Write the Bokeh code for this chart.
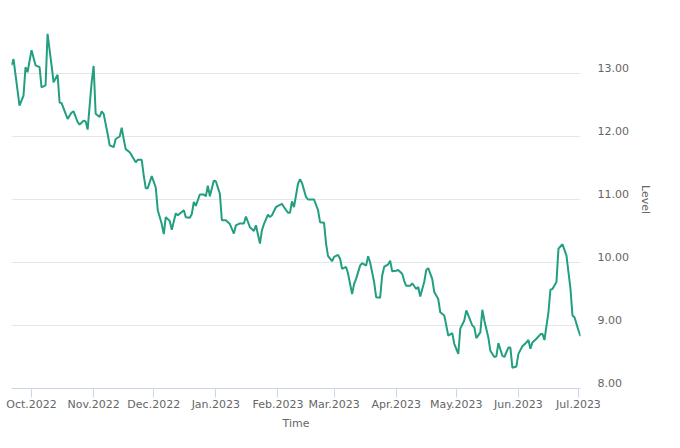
from datetime import datetime
from bokeh.plotting import figure
from bokeh.models import (Range1d, LinearAxis, DatetimeTickFormatter, MonthsTicker,
                          FixedTicker, NumeralTickFormatter, Grid, ColumnDataSource)
from bokeh.embed import file_html
from bokeh.resources import INLINE

dates = ["2022-09-21","2022-09-22","2022-09-25","2022-09-27","2022-09-28","2022-09-29","2022-10-01","2022-10-03","2022-10-05","2022-10-06","2022-10-08","2022-10-09","2022-10-11","2022-10-12","2022-10-14","2022-10-15","2022-10-16","2022-10-19","2022-10-21","2022-10-22","2022-10-24","2022-10-25","2022-10-27","2022-10-28","2022-10-29","2022-10-31","2022-11-01","2022-11-02","2022-11-04","2022-11-05","2022-11-06","2022-11-08","2022-11-09","2022-11-11","2022-11-12","2022-11-14","2022-11-15","2022-11-16","2022-11-17","2022-11-19","2022-11-20","2022-11-22","2022-11-23","2022-11-25","2022-11-26","2022-11-27","2022-11-28","2022-11-30","2022-12-02","2022-12-03","2022-12-05","2022-12-06","2022-12-07","2022-12-09","2022-12-10","2022-12-12","2022-12-13","2022-12-16","2022-12-17","2022-12-19","2022-12-20","2022-12-21","2022-12-22","2022-12-24","2022-12-26","2022-12-27","2022-12-28","2022-12-29","2022-12-31","2023-01-01","2023-01-03","2023-01-04","2023-01-06","2023-01-08","2023-01-10","2023-01-11","2023-01-13","2023-01-15","2023-01-16","2023-01-18","2023-01-20","2023-01-21","2023-01-23","2023-01-24","2023-01-25","2023-01-27","2023-01-28","2023-01-29","2023-01-31","2023-02-01","2023-02-03","2023-02-04","2023-02-06","2023-02-07","2023-02-08","2023-02-09","2023-02-11","2023-02-12","2023-02-13","2023-02-15","2023-02-16","2023-02-19","2023-02-21","2023-02-22","2023-02-24","2023-02-25","2023-02-26","2023-02-28","2023-03-01","2023-03-03","2023-03-04","2023-03-05","2023-03-07","2023-03-08","2023-03-10","2023-03-11","2023-03-12","2023-03-14","2023-03-15","2023-03-17","2023-03-18","2023-03-19","2023-03-21","2023-03-22","2023-03-24","2023-03-25","2023-03-26","2023-03-28","2023-03-29","2023-03-30","2023-04-01","2023-04-02","2023-04-04","2023-04-05","2023-04-06","2023-04-08","2023-04-09","2023-04-11","2023-04-12","2023-04-13","2023-04-15","2023-04-16","2023-04-17","2023-04-19","2023-04-20","2023-04-22","2023-04-23","2023-04-25","2023-04-26","2023-04-27","2023-04-29","2023-04-30","2023-05-02","2023-05-03","2023-05-05","2023-05-06","2023-05-07","2023-05-09","2023-05-10","2023-05-11","2023-05-13","2023-05-14","2023-05-15","2023-05-17","2023-05-18","2023-05-20","2023-05-21","2023-05-22","2023-05-24","2023-05-25","2023-05-27","2023-05-28","2023-05-29","2023-05-31","2023-06-01","2023-06-03","2023-06-05","2023-06-06","2023-06-07","2023-06-08","2023-06-10","2023-06-12","2023-06-13","2023-06-14","2023-06-16","2023-06-17","2023-06-18","2023-06-20","2023-06-21","2023-06-23","2023-06-24","2023-06-25","2023-06-27","2023-06-28","2023-06-29","2023-07-01","2023-07-02"]

values = [13.13,13.23,12.49,12.65,13.10,13.02,13.37,13.13,13.10,12.78,12.81,13.63,13.13,12.86,12.98,12.54,12.53,12.28,12.38,12.40,12.23,12.19,12.25,12.24,12.11,12.86,13.12,12.36,12.31,12.40,12.36,12.04,11.86,11.83,11.96,12.00,12.14,11.96,11.80,11.75,11.70,11.59,11.63,11.63,11.38,11.18,11.18,11.37,11.19,10.83,10.61,10.45,10.72,10.66,10.52,10.78,10.75,10.83,10.72,10.71,10.77,10.96,10.90,11.08,11.08,11.05,11.22,11.05,11.30,11.29,11.09,10.67,10.67,10.61,10.46,10.59,10.62,10.62,10.73,10.56,10.50,10.59,10.30,10.51,10.61,10.76,10.72,10.75,10.88,10.90,10.93,10.88,10.79,10.79,10.97,10.88,11.25,11.32,11.26,11.04,11.00,11.00,10.83,10.64,10.63,10.30,10.10,10.02,10.09,10.12,10.06,9.90,9.93,9.82,9.50,9.66,9.74,9.95,9.99,9.95,10.10,10.00,9.69,9.45,9.44,9.79,9.93,9.97,10.03,9.86,9.87,9.88,9.82,9.71,9.63,9.63,9.67,9.58,9.61,9.46,9.69,9.88,9.91,9.74,9.53,9.42,9.21,9.16,9.00,8.84,8.88,8.71,8.55,8.95,9.08,9.24,9.16,9.00,8.97,8.80,8.89,9.25,9.08,8.81,8.60,8.50,8.51,8.72,8.52,8.50,8.65,8.65,8.33,8.35,8.55,8.67,8.73,8.77,8.63,8.73,8.79,8.86,8.87,8.77,9.21,9.57,9.58,9.69,10.22,10.29,10.20,10.11,9.58,9.16,9.13,8.92,8.83]

y_ticks = [8, 9, 10, 11, 12, 13, 14]
x_title = "Time"
y_title = "Level"

assert len(dates) == len(values), (len(dates), len(values))

xs = [datetime.strptime(d, "%Y-%m-%d") for d in dates]
src = ColumnDataSource(dict(x=xs, y=values))

FONT = "DejaVu Sans"
GREY = "#666666"

p = figure(width=680, height=448, output_backend="svg", toolbar_location=None,
           x_axis_type="datetime", y_axis_location=None,
           x_range=Range1d(xs[0], xs[-1]), y_range=Range1d(y_ticks[0], y_ticks[-1]),
           min_border_left=11, min_border_right=100, min_border_top=10, min_border_bottom=60)
p.outline_line_color = None
p.background_fill_color = "white"
p.border_fill_color = "white"

p.xgrid.visible = False
p.ygrid.visible = False
p.add_layout(Grid(dimension=1, ticker=FixedTicker(ticks=y_ticks),
                  grid_line_color="#e6e6e6", grid_line_width=1))

# right axis labels (sit just above their gridlines)
shift = 6 / 63.0
p.extra_y_ranges = {"lab": Range1d(y_ticks[0] - shift, y_ticks[-1] - shift)}
ax = LinearAxis(y_range_name="lab", ticker=FixedTicker(ticks=y_ticks[:-1]),
                formatter=NumeralTickFormatter(format="0.00"))
ax.axis_line_color = None
ax.major_tick_line_color = None
ax.minor_tick_line_color = None
ax.major_tick_out = 0
ax.major_tick_in = 0
ax.major_label_standoff = 17
ax.major_label_text_font = FONT
ax.major_label_text_font_size = "11px"
ax.major_label_text_color = GREY
ax.axis_label = y_title
ax.axis_label_standoff = 7
ax.axis_label_text_font = FONT
ax.axis_label_text_font_size = "11px"
ax.axis_label_text_font_style = "normal"
ax.axis_label_text_color = GREY
p.add_layout(ax, "right")

xa = p.xaxis[0]
xa.ticker = MonthsTicker(months=list(range(12)))
xa.formatter = DatetimeTickFormatter(months="%b.%Y", days="%b.%Y")
xa.axis_line_color = "#ccd6eb"
xa.major_tick_line_color = "#ccd6eb"
xa.minor_tick_line_color = None
xa.major_tick_out = 9
xa.major_tick_in = 0
xa.major_label_standoff = 0
xa.major_label_text_font = FONT
xa.major_label_text_font_size = "11px"
xa.major_label_text_color = GREY
xa.axis_label = x_title
xa.axis_label_standoff = 3
xa.axis_label_text_font = FONT
xa.axis_label_text_font_size = "11px"
xa.axis_label_text_font_style = "normal"
xa.axis_label_text_color = GREY

p.line("x", "y", source=src, line_color="#229f80", line_width=2)

open("out.html", "w").write(file_html(p, INLINE))
